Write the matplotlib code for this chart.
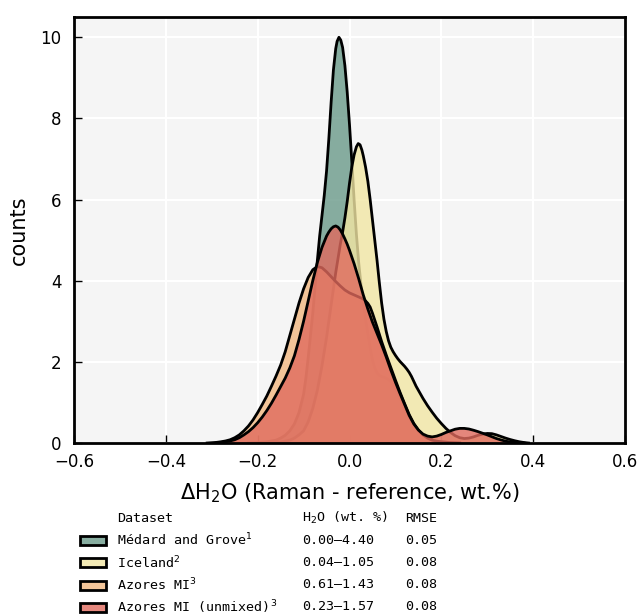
import matplotlib
matplotlib.use("Agg")
import matplotlib.pyplot as plt
from matplotlib.patches import Rectangle
from matplotlib.colors import to_rgba

# ---- data (KDE-like density curves) ----
medard_x = [-0.22, -0.20, -0.18, -0.16, -0.15, -0.14, -0.13, -0.12, -0.11, -0.10, -0.095,
            -0.09, -0.085, -0.08, -0.075, -0.07, -0.065, -0.06, -0.055, -0.05, -0.045,
            -0.04, -0.035, -0.03, -0.027, -0.023, -0.019, -0.015, -0.01, -0.005, 0.0,
            0.005, 0.01, 0.015, 0.02, 0.025, 0.03, 0.035, 0.04, 0.045, 0.05, 0.055,
            0.06, 0.065, 0.07, 0.08, 0.09, 0.10, 0.11, 0.12, 0.13, 0.14, 0.15, 0.16,
            0.17, 0.18, 0.20, 0.22, 0.24]
medard_y = [0.0, 0.01, 0.03, 0.07, 0.12, 0.19, 0.3, 0.47, 0.75, 1.2, 1.6,
            2.1, 2.65, 3.2, 3.85, 4.5, 5.1, 5.6, 6.1, 6.7, 7.5,
            8.4, 9.2, 9.72, 9.9, 10.0, 9.93, 9.75, 9.3, 8.65, 7.85,
            6.95, 6.0, 5.15, 4.45, 3.9, 3.45, 3.05, 2.7, 2.35, 2.05, 1.85,
            1.73, 1.67, 1.64, 1.6, 1.52, 1.35, 1.1, 0.85, 0.62, 0.43, 0.29, 0.19,
            0.12, 0.07, 0.03, 0.01, 0.0]

iceland_x = [-0.17, -0.15, -0.13, -0.12, -0.11, -0.10, -0.09, -0.08, -0.07, -0.06, -0.05,
             -0.04, -0.03, -0.02, -0.015, -0.01, -0.005, 0.0, 0.005, 0.01, 0.015, 0.019,
             0.023, 0.027, 0.03, 0.035, 0.04, 0.045, 0.05, 0.055, 0.06, 0.065, 0.07,
             0.075, 0.08, 0.085, 0.09, 0.095, 0.10, 0.105, 0.11, 0.115, 0.12, 0.125,
             0.13, 0.135, 0.14, 0.145, 0.15, 0.16, 0.17, 0.18, 0.19, 0.20, 0.21, 0.22,
             0.23, 0.24, 0.25, 0.26, 0.27, 0.28, 0.29, 0.30, 0.31, 0.32, 0.33, 0.34,
             0.35, 0.36, 0.37, 0.38, 0.39]
iceland_y = [0.0, 0.02, 0.07, 0.12, 0.2, 0.3, 0.52, 0.85, 1.3, 1.9, 2.6,
             3.4, 4.2, 4.9, 5.2, 5.55, 5.95, 6.4, 6.8, 7.1, 7.3, 7.38,
             7.35, 7.22, 7.08, 6.8, 6.45, 6.0, 5.5, 5.0, 4.5, 3.95, 3.45,
             3.05, 2.75, 2.52, 2.36, 2.25, 2.16, 2.08, 2.01, 1.95, 1.89, 1.82,
             1.74, 1.64, 1.52, 1.4, 1.3, 1.1, 0.92, 0.76, 0.61, 0.48, 0.36, 0.26,
             0.18, 0.13, 0.11, 0.12, 0.15, 0.19, 0.22, 0.235, 0.23, 0.2, 0.16, 0.12,
             0.085, 0.055, 0.03, 0.012, 0.0]

azores_x = [-0.31, -0.29, -0.28, -0.27, -0.26, -0.25, -0.24, -0.23, -0.22, -0.21, -0.20,
            -0.19, -0.18, -0.17, -0.16, -0.15, -0.14, -0.13, -0.12, -0.11, -0.10, -0.09,
            -0.08, -0.07, -0.06, -0.05, -0.04, -0.03, -0.02, -0.01, 0.0, 0.01, 0.02,
            0.03, 0.035, 0.04, 0.045, 0.05, 0.055, 0.06, 0.065, 0.07, 0.08, 0.09, 0.10,
            0.11, 0.12, 0.13, 0.14, 0.15, 0.16, 0.17, 0.18, 0.19, 0.20, 0.22, 0.24]
azores_y = [0.0, 0.015, 0.03, 0.05, 0.08, 0.13, 0.2, 0.3, 0.42, 0.57, 0.75,
            0.95, 1.16, 1.4, 1.65, 1.92, 2.25, 2.65, 3.05, 3.45, 3.8, 4.08,
            4.27, 4.35, 4.32, 4.22, 4.1, 3.98, 3.87, 3.77, 3.7, 3.65, 3.6,
            3.55, 3.5, 3.44, 3.35, 3.2, 3.03, 2.86, 2.68, 2.5, 2.17, 1.86, 1.55,
            1.25, 0.97, 0.7, 0.48, 0.32, 0.2, 0.12, 0.07, 0.045, 0.03, 0.01, 0.0]

unmixed_x = [-0.29, -0.27, -0.26, -0.25, -0.24, -0.23, -0.22, -0.21, -0.20, -0.19, -0.18,
             -0.17, -0.16, -0.15, -0.14, -0.13, -0.12, -0.11, -0.10, -0.09, -0.08, -0.07,
             -0.06, -0.05, -0.045, -0.04, -0.035, -0.03, -0.025, -0.02, -0.015, -0.01,
             -0.005, 0.0, 0.01, 0.02, 0.03, 0.04, 0.05, 0.06, 0.07, 0.08, 0.09, 0.10,
             0.11, 0.12, 0.13, 0.14, 0.15, 0.16, 0.17, 0.18, 0.19, 0.20, 0.21, 0.22,
             0.23, 0.24, 0.25, 0.26, 0.27, 0.28, 0.29, 0.30, 0.31, 0.32, 0.33, 0.34,
             0.35, 0.36, 0.38]
unmixed_y = [0.0, 0.03, 0.05, 0.08, 0.13, 0.2, 0.28, 0.38, 0.5, 0.64, 0.8,
             0.98, 1.18, 1.39, 1.6, 1.85, 2.15, 2.55, 3.0, 3.5, 4.0, 4.45,
             4.82, 5.1, 5.2, 5.28, 5.33, 5.35, 5.32, 5.25, 5.15, 5.03,
             4.9, 4.75, 4.42, 4.05, 3.65, 3.3, 2.98, 2.7, 2.42, 2.12, 1.8, 1.5,
             1.22, 0.95, 0.68, 0.47, 0.32, 0.22, 0.17, 0.15, 0.17, 0.21, 0.26, 0.3,
             0.34, 0.36, 0.36, 0.345, 0.315, 0.28, 0.24, 0.2, 0.155, 0.11, 0.075, 0.045,
             0.025, 0.01, 0.0]

names = ["Médard and Grove$^1$", "Iceland$^2$", "Azores MI$^3$", "Azores MI (unmixed)$^3$"]
ranges = ["0.00–4.40", "0.04–1.05", "0.61–1.43", "0.23–1.57"]
rmse = ["0.05", "0.08", "0.08", "0.08"]
colors = ["#6a9a8a", "#f2e6a4", "#f2b881", "#e06a5e"]
header = ["Dataset", "H$_2$O (wt. %)", "RMSE"]

xs = [medard_x, iceland_x, azores_x, unmixed_x]
ys = [medard_y, iceland_y, azores_y, unmixed_y]

W, H = 641, 615
fig = plt.figure(figsize=(W / 100, H / 100), dpi=100)
ax = fig.add_axes([74 / W, (H - 443) / H, 551 / W, 426 / H])
ax.set_facecolor("#f5f5f5")
ax.grid(True, color="white", lw=1.5, zorder=0)
ax.set_axisbelow(True)

for x, y, c in zip(xs, ys, colors):
    ax.fill_between(x, y, 0, color=c, alpha=0.8, lw=0, zorder=2)
    ax.plot(x, y, color="black", lw=2, zorder=2, solid_joinstyle="round")

ax.set_xlim(-0.6, 0.6)
ax.set_ylim(0, 10.5)
ax.set_xticks([-0.6, -0.4, -0.2, 0.0, 0.2, 0.4, 0.6])
ax.set_yticks([0, 2, 4, 6, 8, 10])
ax.tick_params(direction="in", length=6, width=1, labelsize=12)
ax.tick_params(axis="x", pad=7)
ax.tick_params(axis="y", pad=9)
for s in ax.spines.values():
    s.set_linewidth(2)
ax.set_xlabel(r"$\Delta$H$_2$O (Raman - reference, wt.%)", fontsize=15, labelpad=8)
ax.set_ylabel("counts", fontsize=15, labelpad=8)

# ---- table-like legend below the axes ----
mono = "DejaVu Sans Mono"
fs = 9.6
col_x = [117, 302, 405]
row_y = [518, 540, 562.5, 585, 607]

def fx(px):
    return px / W

def fy(py):
    return 1 - py / H

for cx, t in zip(col_x, header):
    fig.text(fx(cx), fy(row_y[0]), t, family=mono, fontsize=fs, va="center", ha="left")
for i in range(4):
    yy = row_y[i + 1]
    fig.add_artist(Rectangle((fx(80), fy(yy + 4.5)), fx(106) - fx(80), (9 / H),
                             transform=fig.transFigure, facecolor=to_rgba(colors[i], 0.8),
                             edgecolor="black", lw=2))
    fig.text(fx(col_x[0]), fy(yy), names[i], family=mono, fontsize=fs, va="center", ha="left")
    fig.text(fx(col_x[1]), fy(yy), ranges[i], family=mono, fontsize=fs, va="center", ha="left")
    fig.text(fx(col_x[2]), fy(yy), rmse[i], family=mono, fontsize=fs, va="center", ha="left")

fig.savefig("out.png", dpi=100)
